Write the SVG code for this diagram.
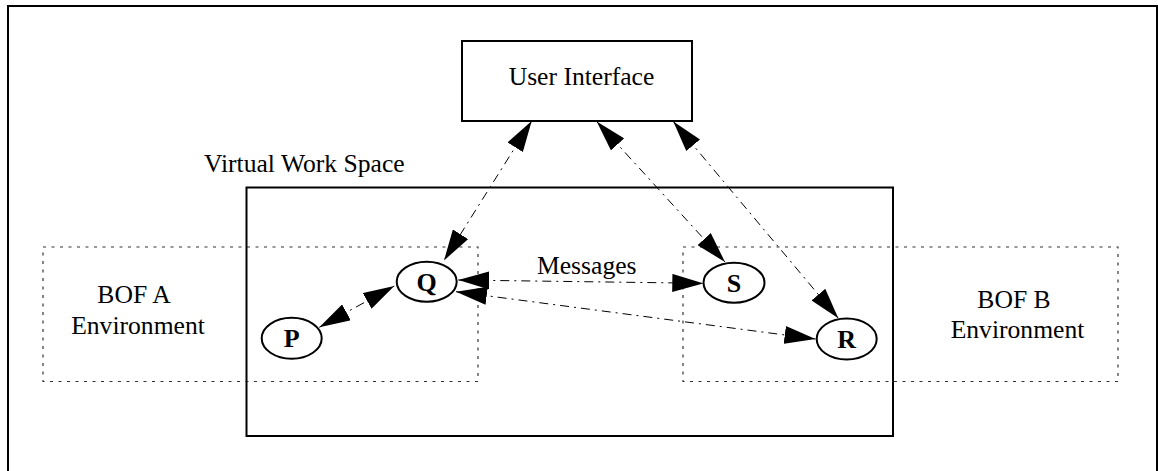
<svg xmlns="http://www.w3.org/2000/svg" width="1158" height="471" viewBox="0 0 1158 471">
  <style>
    .frame { fill: none; stroke: #000; stroke-width: 2; }
    .env { fill: none; stroke: #333; stroke-width: 1.2; stroke-dasharray: 3 5.5; }
    .node ellipse { fill: #fff; stroke: #000; stroke-width: 2; }
    .lbl { font-family: "Liberation Serif", "Times New Roman", serif; font-size: 25.6px; fill: #000; }
    .nodelbl { font-family: "Liberation Serif", "Times New Roman", serif; font-size: 26px; font-weight: bold; fill: #000; text-anchor: middle; }
    .link { fill: none; stroke: #000; stroke-width: 1; stroke-dasharray: 9 5 2 5; marker-start: url(#head); marker-end: url(#head); }
  </style>
  <defs>
    <marker id="head" markerUnits="userSpaceOnUse" markerWidth="31" markerHeight="18" refX="31" refY="9" orient="auto-start-reverse">
      <path d="M0,0 L31,9 L0,18 Z" fill="#000"/>
    </marker>
  </defs>
  <rect width="1158" height="471" fill="#fff"/>

  <!-- outer frame -->
  <rect class="frame" x="8" y="6" width="1149" height="480"/>

  <!-- BOF environments -->
  <g id="bof-a">
    <rect class="env" x="43" y="247" width="435" height="134.5"/>
    <text class="lbl" x="134" y="303" text-anchor="middle">BOF A</text>
    <text class="lbl" x="138" y="334" text-anchor="middle">Environment</text>
  </g>
  <g id="bof-b">
    <rect class="env" x="683" y="247" width="435" height="134.5"/>
    <text class="lbl" x="1014" y="308" text-anchor="middle">BOF B</text>
    <text class="lbl" x="1017.5" y="338" text-anchor="middle">Environment</text>
  </g>

  <!-- virtual work space -->
  <g id="vws">
    <rect class="frame" x="246.5" y="187.5" width="646.5" height="248.5"/>
    <text class="lbl" x="204" y="172">Virtual Work Space</text>
  </g>

  <!-- user interface -->
  <g id="ui">
    <rect class="frame" x="462" y="41" width="230" height="80" fill="#fff"/>
    <text class="lbl" x="581.5" y="85" text-anchor="middle">User Interface</text>
  </g>

  <!-- connectors -->
  <g id="connectors">
    <line class="link" x1="531.7" y1="121" x2="444" y2="260.5"/>
    <line class="link" x1="596.7" y1="121.5" x2="725" y2="262"/>
    <line class="link" x1="673.3" y1="121.5" x2="838.3" y2="318.3"/>
    <line class="link" x1="458.3" y1="280" x2="703.3" y2="283.3"/>
    <line class="link" x1="456" y1="291.7" x2="815.5" y2="339"/>
    <line class="link" x1="319.3" y1="327.3" x2="394.3" y2="286"/>
    <text class="lbl" x="537" y="274">Messages</text>
  </g>

  <!-- agents -->
  <g id="node-q" class="node">
    <ellipse cx="426.7" cy="281.7" rx="30" ry="20"/>
    <text class="nodelbl" x="426.7" y="290.5">Q</text>
  </g>
  <g id="node-p" class="node">
    <ellipse cx="291.7" cy="338.3" rx="30" ry="20.5"/>
    <text class="nodelbl" x="291.7" y="347">P</text>
  </g>
  <g id="node-s" class="node">
    <ellipse cx="734" cy="282.7" rx="30.5" ry="20"/>
    <text class="nodelbl" x="734" y="291.5">S</text>
  </g>
  <g id="node-r" class="node">
    <ellipse cx="846.7" cy="339" rx="30" ry="20.5"/>
    <text class="nodelbl" x="846.7" y="348">R</text>
  </g>
</svg>
